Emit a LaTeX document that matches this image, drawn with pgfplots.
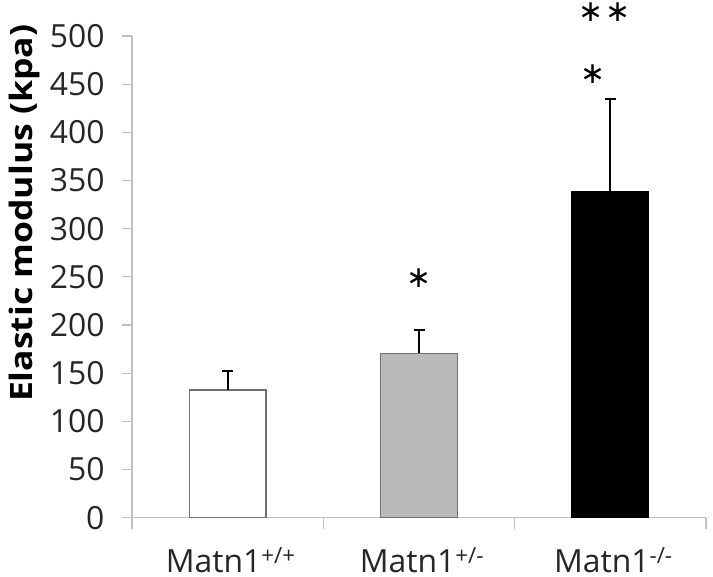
\documentclass[border=0pt]{standalone}
\usepackage{fontspec}
\setmainfont{Open Sans}
\newfontfamily\labelfont{Open Sans}[FakeStretch=1.15]
\newfontfamily\symfont{DejaVu Sans}
\usepackage{pgfplots}
\pgfplotsset{compat=1.18}
\definecolor{axisgray}{HTML}{BFBFBF}
\definecolor{edgegray}{HTML}{707070}
\definecolor{bargray}{HTML}{BABABA}
\begin{document}
\begin{tikzpicture}
\begin{axis}[
  scale only axis, width=574bp, height=481.7bp,
  xmin=-0.5, xmax=2.5, ymin=0, ymax=500,
  axis x line*=bottom, axis y line*=left,
  axis line style={axisgray, line width=1.3bp},
  tick align=outside,
  ytick={0,50,...,500},
  yticklabels={0,50,100,150,200,250,300,350,400,450,500},
  xtick={0,1,2},
  xticklabels={Matn1\textsuperscript{+/+}, Matn1\textsuperscript{+/-}, Matn1\textsuperscript{-/-}},
  minor xtick={-0.5,0.5,1.5,2.5},
  major tick length=10bp, minor tick length=11bp,
  major x tick style={draw=none},
  every tick/.style={axisgray, line width=1.3bp},
  yticklabel style={font=\fontsize{32}{34}\selectfont, color=black!85, anchor=east, xshift=-14bp},
  xticklabel style={font=\fontsize{32}{36}\selectfont, color=black!85, anchor=base, inner ysep=0pt, text depth=0pt, yshift=-45bp, xshift=3bp},
  ylabel={\labelfont\bfseries Elastic modulus (kpa)},
  ylabel style={font=\fontsize{31}{34}\selectfont, at={(axis description cs:-0.188,0.632)}, anchor=center},
  clip=false,
  error bars/y dir=plus, error bars/y explicit,
  error bars/error mark options={rotate=90, mark size=5.5bp, line width=2bp, black},
  error bars/error bar style={line width=2bp, black},
]
\addplot[ybar, bar width=0.4, bar shift=0pt, fill=white, draw=edgegray, line width=1.5bp]
  coordinates {(0,132.5) +- (0,19.3)};
\addplot[ybar, bar width=0.4, bar shift=0pt, fill=bargray, draw=edgegray, line width=1.5bp]
  coordinates {(1,170.5) +- (0,24.7)};
\addplot[ybar, bar width=0.4, bar shift=0pt, fill=black, draw=black, line width=1.5bp]
  coordinates {(2,338) +- (0,97)};
\addplot[only marks, mark=none, nodes near coords, point meta=explicit symbolic,
  every node near coord/.style={anchor=center, inner sep=0pt, font=\symfont\fontsize{30}{30}\selectfont}]
  coordinates {(1,248.3)[∗] (1.91,460)[∗] (1.90,525.2)[∗] (2.04,525.2)[∗]};
\end{axis}
\pgfresetboundingbox
\path (-132bp,-59.3bp) rectangle (581bp,517.7bp);
\end{tikzpicture}
\end{document}
